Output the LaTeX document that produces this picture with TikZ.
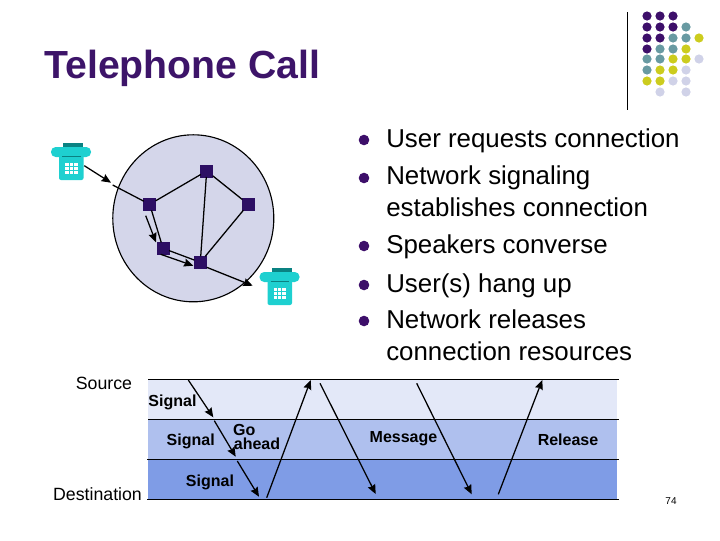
\documentclass[tikz,border=0pt]{standalone}
\usepackage{fontspec}
\usepackage{xcolor}
\usepackage{tikz}
\usetikzlibrary{arrows.meta}
\setmainfont{Liberation Sans}
\definecolor{titlepurple}{RGB}{61, 20, 105}
\definecolor{dotpurple}{RGB}{61, 15, 106}
\definecolor{dotteal}{RGB}{104, 154, 162}
\definecolor{dotyellow}{RGB}{204, 204, 30}
\definecolor{dotlav}{RGB}{208, 210, 232}
\definecolor{cloudlav}{RGB}{212, 214, 234}
\definecolor{nodepurple}{RGB}{45, 15, 100}
\definecolor{phonecyan}{RGB}{30, 208, 208}
\definecolor{phonedark}{RGB}{10, 130, 130}
\definecolor{bandlight}{RGB}{227, 232, 248}
\definecolor{bandmid}{RGB}{175, 192, 238}
\definecolor{banddark}{RGB}{127, 156, 230}
\tikzset{
  switchnode/.style={draw=nodepurple,fill=nodepurple,minimum size=9.75pt-0.8pt,inner sep=0pt,outer sep=0pt},
  arrowline/.style={line width=0.95pt,-{Stealth[length=7pt,width=6pt,inset=0.8pt]}},
  linkline/.style={line width=0.95pt},
  bandline/.style={line width=0.8pt},
  bodytext/.style={anchor=base west,inner sep=0pt,align=left,font=\fontsize{19.4}{23.4}\selectfont},
  bandtext/.style={inner sep=0pt,align=center,font=\fontsize{12}{10.5}\selectfont\bfseries},
  sidetext/.style={inner sep=0pt,font=\fontsize{13.3}{16}\selectfont},
  phone/.pic={
    \fill [phonedark] (-8,-18) rectangle (12,-12);
    \fill [phonecyan, rounded corners=3.5] (-20,-14) rectangle (20,-4);
    \fill [phonecyan, rounded corners=1.5] (-12,-6) rectangle (12.5,19);
    \draw [phonedark, line width=0.6pt] (-9,-4.5) -- (9.5,-4.5);
    \fill [white] (-6,2) rectangle (6.5,13);
    \draw [phonecyan, line width=0.5pt] (-6,5.5) -- (6.5,5.5) (-6,9.3) -- (6.5,9.3) (-2,2) -- (-2,13) (2.3,2) -- (2.3,13);
  }
}

\begin{document}
\begin{tikzpicture}[x=0.75pt,y=0.75pt,yscale=-1,xscale=1]
\useasboundingbox (0,0) rectangle (720,540);

% Title
\node (title) [anchor=base west,inner sep=0pt,text=titlepurple,font=\fontsize{29.4}{34}\selectfont\bfseries] at (44,78) {Telephone Call};

%Corner rule and dots
\draw [line width=0.75pt] (627,12) -- (627,110);
\fill [dotpurple] (647,16) circle (4.6);
\fill [dotpurple] (660,16) circle (4.6);
\fill [dotpurple] (673,16) circle (4.6);
\fill [dotpurple] (647,27) circle (4.6);
\fill [dotpurple] (660,27) circle (4.6);
\fill [dotpurple] (673,27) circle (4.6);
\fill [dotteal] (686,27) circle (4.6);
\fill [dotpurple] (647,38) circle (4.6);
\fill [dotpurple] (660,38) circle (4.6);
\fill [dotteal] (673,38) circle (4.6);
\fill [dotteal] (686,38) circle (4.6);
\fill [dotyellow] (699,38) circle (4.6);
\fill [dotpurple] (647,49) circle (4.6);
\fill [dotteal] (660,49) circle (4.6);
\fill [dotteal] (673,49) circle (4.6);
\fill [dotyellow] (686,49) circle (4.6);
\fill [dotteal] (647,59) circle (4.6);
\fill [dotteal] (660,59) circle (4.6);
\fill [dotyellow] (673,59) circle (4.6);
\fill [dotyellow] (686,59) circle (4.6);
\fill [dotlav] (699,59) circle (4.6);
\fill [dotteal] (647,70) circle (4.6);
\fill [dotyellow] (660,70) circle (4.6);
\fill [dotyellow] (673,70) circle (4.6);
\fill [dotlav] (686,70) circle (4.6);
\fill [dotyellow] (647,81) circle (4.6);
\fill [dotyellow] (660,81) circle (4.6);
\fill [dotlav] (673,81) circle (4.6);
\fill [dotlav] (686,81) circle (4.6);
\fill [dotlav] (660,92) circle (4.6);
\fill [dotlav] (686,92) circle (4.6);

%Network cloud
\draw [fill=cloudlav, line width=0.85pt] (193.3,218.3) ellipse (80.5 and 83.5);

%Switch nodes
\node (sTop) [switchnode] at (206.7,171) {};
\node (sLeft) [switchnode] at (149.7,204.3) {};
\node (sRight) [switchnode] at (248.3,204.3) {};
\node (sLow) [switchnode] at (163,248.3) {};
\node (sBottom) [switchnode] at (200.3,262.3) {};

%Phones
\pic [yscale=-1] at (71,161) {phone};
\pic [yscale=-1] at (279.5,286) {phone};

%Links
\draw [linkline] (sLeft) -- (sTop);
\draw [linkline] (sTop) -- (sRight);
\draw [linkline] (sTop) -- (sBottom);
\draw [linkline] (sRight) -- (sBottom);
\draw [linkline] (sLeft) -- (sLow);
\draw [linkline] (sLow) -- (sBottom);
\coordinate (inA) at (84.3,165.7);
\coordinate (inB) at (111,182.7);
\coordinate (inC) at (112.7,185);
\coordinate (outA) at (206.7,267.3);
\coordinate (outB) at (252.7,285.7);
\coordinate (upA) at (145.7,215.7);
\coordinate (upB) at (156,242.3);
\coordinate (lowA) at (160.7,254.3);
\coordinate (lowB) at (193.3,265.7);
\draw [arrowline] (inA) -- (inB);
\draw [linkline] (inC) -- (sLeft);
\draw [arrowline] (outA) -- (outB);
\draw [arrowline] (upA) -- (upB);
\draw [arrowline] (lowA) -- (lowB);

%Bullets
\fill [dotpurple] (364,140) circle (5.3);
\fill [dotpurple] (364,178) circle (5.3);
\fill [dotpurple] (364,246) circle (5.3);
\fill [dotpurple] (364,285) circle (5.3);
\fill [dotpurple] (364,321) circle (5.3);

% Text Node
\node (item1) [bodytext] at (386,147) {User requests connection};
\node (item2) [bodytext] at (386,216) {Network signaling\\establishes connection};
\node (item3) [bodytext] at (386,253) {Speakers converse};
\node (item4) [bodytext] at (386,292) {User(s) hang up};
\node (item5) [bodytext] at (386,360) {Network releases\\connection resources};

%Bands
\fill [bandlight] (148,379.3) rectangle (617,419.3);
\fill [bandmid] (148,419.3) rectangle (617,459.3);
\fill [banddark] (148,459.3) rectangle (617,499.3);
\draw [bandline] (148,379.3) -- (619.3,379.3);
\draw [bandline] (148,419.3) -- (619.3,419.3);
\draw [bandline] (147,459.3) -- (619.3,459.3);
\draw [bandline] (147,499.3) -- (619.3,499.3);

%Signal arrows
\coordinate (sigA) at (188.3,380);
\coordinate (sigB) at (213.3,417.3);
\coordinate (sigC) at (214.3,420.7);
\coordinate (sigD) at (235.7,456.7);
\coordinate (sigE) at (237.3,461);
\coordinate (sigF) at (259,496.7);
\coordinate (aheadA) at (266.7,497.7);
\coordinate (aheadB) at (310.7,380);
\coordinate (msgA) at (320,383.3);
\coordinate (msgB) at (375.7,494);
\coordinate (msgC) at (416.7,383.3);
\coordinate (msgD) at (471.7,494.3);
\coordinate (relA) at (498.3,494.3);
\coordinate (relB) at (542.3,380);
\draw [arrowline] (sigA) -- (sigB);
\draw [arrowline] (sigC) -- (sigD);
\draw [arrowline] (sigE) -- (sigF);
\draw [arrowline] (aheadA) -- (aheadB);
\draw [arrowline] (msgA) -- (msgB);
\draw [arrowline] (msgC) -- (msgD);
\draw [arrowline] (relA) -- (relB);

% Text Node
\node (source) [sidetext] at (104,383) {Source};
\node (destination) [sidetext] at (97.5,494.5) {Destination};
\node (sigOne) [bandtext] at (172.5,402) {Signal};
\node (sigTwo) [bandtext] at (190.7,441) {Signal};
\node (sigThree) [bandtext] at (210,482) {Signal};
\node (goAhead) [bandtext] at (257,436.5) {\hspace*{-19pt}Go\\ahead};
\node (message) [bandtext] at (403.5,439) {Message};
\node (release) [bandtext] at (568,439.5) {Release};
\node (pageNo) [inner sep=0pt,font=\fontsize{7.5}{9}\selectfont] at (671,501) {74};

\end{tikzpicture}
\end{document}
